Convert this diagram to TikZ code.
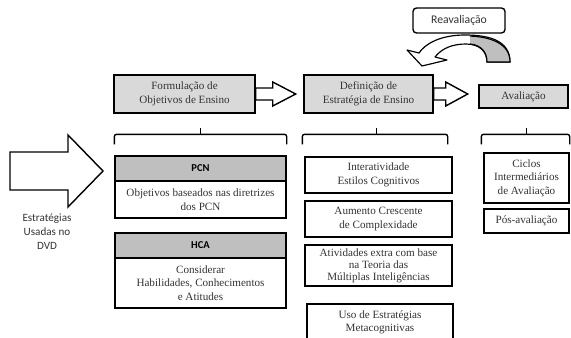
\documentclass[tikz,border=0pt]{standalone}
\usepackage{fontspec}
\setmainfont{Liberation Serif}
\setsansfont{Carlito}
\usetikzlibrary{positioning,calc}
\definecolor{BoxGray}{rgb}{.85,.85,.85}
\definecolor{HeadGray}{rgb}{.75,.75,.75}
\definecolor{TextGray}{rgb}{.2,.2,.2}

\begin{document}
\begin{tikzpicture}[x=0.3mm, y=-0.3mm,
		every node/.style={align=center, inner sep=0pt, text=TextGray, font=\fontsize{9.5}{11.5}\selectfont},
		box/.style={draw, line width=1.2pt, fill=white},
		stage/.style={box, fill=BoxGray, minimum height=11.4mm},
		head/.style={box, fill=HeadGray, minimum width=51.3mm, minimum height=7.5mm, text=black, font=\sffamily\bfseries\fontsize{9}{11}\selectfont},
		barrow/.style={draw, line width=1.2pt, fill=white, line join=miter},
		brace/.style={draw, line width=1.2pt, rounded corners=2pt}
		]
		\useasboundingbox (0,0) rectangle (571,338);
		\clip (0,0) rectangle (571,338);

		% top row
		\node[stage, minimum width=42.3mm] (F) at (184.5,94) {Formulação de\\Objetivos de Ensino};
		\node[stage, minimum width=38.7mm] (D) at (368.5,94) {Definição de\\Estratégia de Ensino};
		\node[stage, minimum width=26.7mm, minimum height=6.9mm] (A) at (523.5,96.5) {Avaliação};
		\node[box, rounded corners=3pt, minimum width=27.6mm, minimum height=7.5mm, font=\sffamily\fontsize{10}{12}\selectfont] (R) at (459,20.5) {Reavaliação};

		\draw[barrow] (F.east) ++(0,-6) -- ++(17,0) -- ++(0,-6) -- ++(23,12) -- ++(-23,12) -- ++(0,-6) -- ++(-17,0) -- cycle;
		\draw[barrow] (D.east) ++(0,-6) -- ++(12,0) -- ++(0,-6) -- ++(22,12) -- ++(-22,12) -- ++(0,-6) -- ++(-12,0) -- cycle;

		% curved arrow under Reavaliacao
		\draw[barrow, line width=1pt, line join=round] (510,62) .. controls (510,40) and (488,35) .. (465,35)
			.. controls (440,35) and (425,44) .. (419,53) -- (407,50) -- (422,66) -- (447,60) -- (435,57)
			.. controls (442,48) and (453,44) .. (466,44) .. controls (480,44) and (487,52) .. (487,62) -- cycle;
		\draw[line width=1pt, fill=HeadGray] (470,36) .. controls (490,37) and (510,43) .. (510,62) -- (487,62)
			.. controls (487,52) and (481,45) .. (470,44);

		% left column
		\node[head] (PH) at (200.5,168.5) {PCN};
		\node[box, minimum width=51.3mm, minimum height=11.1mm] (PB) at (200.5,199.5) {Objetivos baseados nas diretrizes\\dos PCN};
		\node[head] (HH) at (200.5,245.5) {HCA};
		\node[box, minimum width=51.3mm, minimum height=15mm] (HB) at (200.5,283) {Considerar\\Habilidades, Conhecimentos\\e Atitudes};

		% middle column
		\node[box, minimum width=44.1mm, minimum height=10.8mm] (I1) at (378.5,175) {Interatividade\\Estilos Cognitivos};
		\node[box, minimum width=44.1mm, minimum height=10.8mm] (I2) at (378.5,219) {Aumento Crescente\\de Complexidade};
		\node[box, minimum width=44.1mm, minimum height=12.3mm, font=\fontsize{9.5}{10.2}\selectfont] (I3) at (378.5,265.5) {Atividades extra com base\\na Teoria das\\Múltiplas Inteligências};
		\node[box, minimum width=43.8mm, minimum height=11.1mm] (I4) at (380,322.5) {Uso de Estratégias\\Metacognitivas};

		% right column
		\node[box, minimum width=25.5mm, minimum height=15mm] (C1) at (526.5,178) {Ciclos\\Intermediários\\de Avaliação};
		\node[box, minimum width=25.5mm, minimum height=7.2mm] (C2) at (526.5,221) {Pós-avaliação};

		% braces
		\draw[brace] ($(PH.north west)+(0,-11)$) |- ($(PH.north east)+(0,-21)$) -- ($(PH.north east)+(0,-11)$);
		\draw[line width=1.2pt] ($(PH.north)+(0,-21)$) -- ++(0,-6);
		\draw[brace] ($(I1.north west)+(-2,-12)$) |- ($(I1.north east)+(-5,-22)$) -- ($(I1.north east)+(-5,-12)$);
		\draw[line width=1.2pt] ($(I1.north)+(-2,-22)$) -- ++(0,-6);
		\draw[brace] ($(C1.north west)+(-2,-8)$) |- ($(C1.north east)+(0,-18)$) -- ($(C1.north east)+(0,-8)$);
		\draw[line width=1.2pt] ($(C1.north)+(0,-18)$) -- ++(0,-6);

		% big arrow on the left
		\draw[barrow] (10,152) -- (68,152) -- (68,135) -- (103,171) -- (68,207) -- (68,190) -- (10,190) -- cycle;
		\node[font=\sffamily\fontsize{9.5}{12}\selectfont] (dvd) at (47,232) {Estratégias\\Usadas no\\DVD};
	\end{tikzpicture}
\end{document}
